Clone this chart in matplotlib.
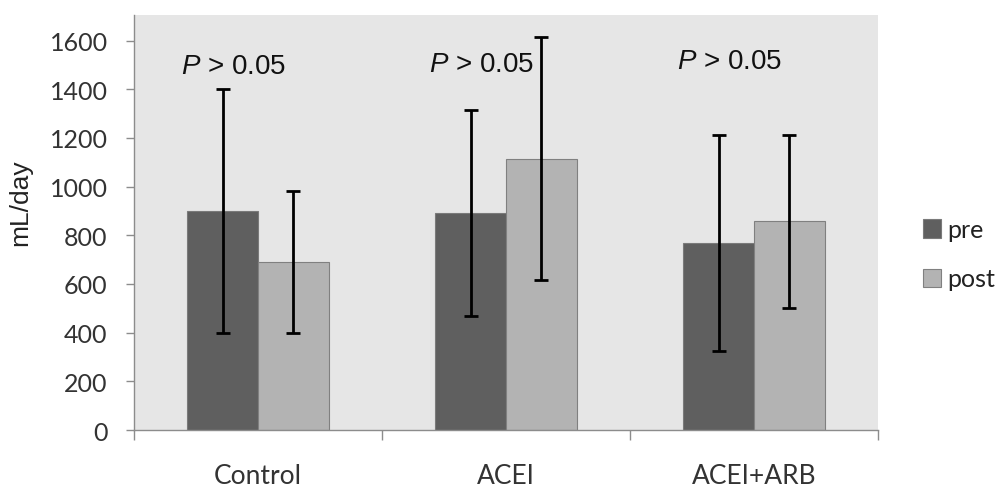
import matplotlib
matplotlib.use("Agg")
import matplotlib.pyplot as plt
import numpy as np

plt.rcParams["mathtext.fontset"] = "custom"
plt.rcParams["mathtext.rm"] = "Liberation Sans"
plt.rcParams["mathtext.it"] = "Liberation Sans:italic"

# Urine volume (mL/day) before and after treatment, mean with SD
groups = ["Control", "ACEI", "ACEI+ARB"]
pre_mean = [900, 893, 768]
pre_sd = [500, 423, 443]
post_mean = [690, 1115, 857]
post_sd = [290, 499, 357]
series_names = ["pre", "post"]
p_labels = ["P > 0.05", "P > 0.05", "P > 0.05"]
p_label_y = [1497, 1505, 1514]
y_ticks = [0, 200, 400, 600, 800, 1000, 1200, 1400, 1600]

label_font = "Lato"
text_font = "Liberation Sans"

fig = plt.figure(figsize=(10, 4.89), dpi=100)
ax = fig.add_axes([0.134, 0.1186, 0.744, 0.8487])
ax.set_facecolor("#e6e6e6")

x = np.arange(len(groups))
w = 0.286
pre_color, post_color = "#5f5f5f", "#b3b3b3"

ax.bar(x - w / 2, pre_mean, w, color=pre_color, edgecolor="#7a7a7a",
       linewidth=0.8, label=series_names[0], zorder=2)
ax.bar(x + w / 2, post_mean, w, color=post_color, edgecolor="#808080",
       linewidth=0.8, label=series_names[1], zorder=2)
ax.errorbar(x - w / 2, pre_mean, yerr=pre_sd, fmt="none", ecolor="black",
            elinewidth=2.0, capsize=4.8, capthick=2.0, zorder=3)
ax.errorbar(x + w / 2, post_mean, yerr=post_sd, fmt="none", ecolor="black",
            elinewidth=2.0, capsize=4.8, capthick=2.0, zorder=3)

for xi, lab, yy in zip(x, p_labels, p_label_y):
    ax.text(xi - 0.1, yy, "$\\mathit{P}$" + lab[1:], ha="center", va="center",
            fontsize=20, family=text_font, color="#111111", zorder=4)

ax.set_xlim(-0.5, len(groups) - 0.5)
ax.set_ylim(0, 1705)

ax.set_yticks(y_ticks)
ax.set_yticklabels([str(v) for v in y_ticks], family=label_font, fontsize=18,
                   color="#333333")
ax.tick_params(axis="y", length=6, width=1, color="#8c8c8c", pad=13)

ax.set_xticks(x)
ax.set_xticklabels(groups, family=label_font, fontsize=19, color="#333333")
ax.tick_params(axis="x", which="major", length=0, pad=24)
ax.set_xticks(np.arange(len(groups) + 1) - 0.5, minor=True)
ax.tick_params(axis="x", which="minor", length=7, width=1, color="#8c8c8c")

for side in ["top", "right"]:
    ax.spines[side].set_visible(False)
for side in ["left", "bottom"]:
    ax.spines[side].set_color("#8c8c8c")
    ax.spines[side].set_linewidth(1)

ax.set_ylabel("mL/day", family=text_font, fontsize=19, color="#222222")
ax.yaxis.set_label_coords(-0.137, 0.55)

leg = fig.legend(loc="center left", bbox_to_anchor=(0.9, 0.478),
                 frameon=False, prop={"family": label_font, "size": 18},
                 handlelength=0.75, handleheight=0.75, handletextpad=0.25,
                 labelspacing=1.05, labelcolor="#222222")

fig.savefig("out.png", dpi=100, facecolor="white")
